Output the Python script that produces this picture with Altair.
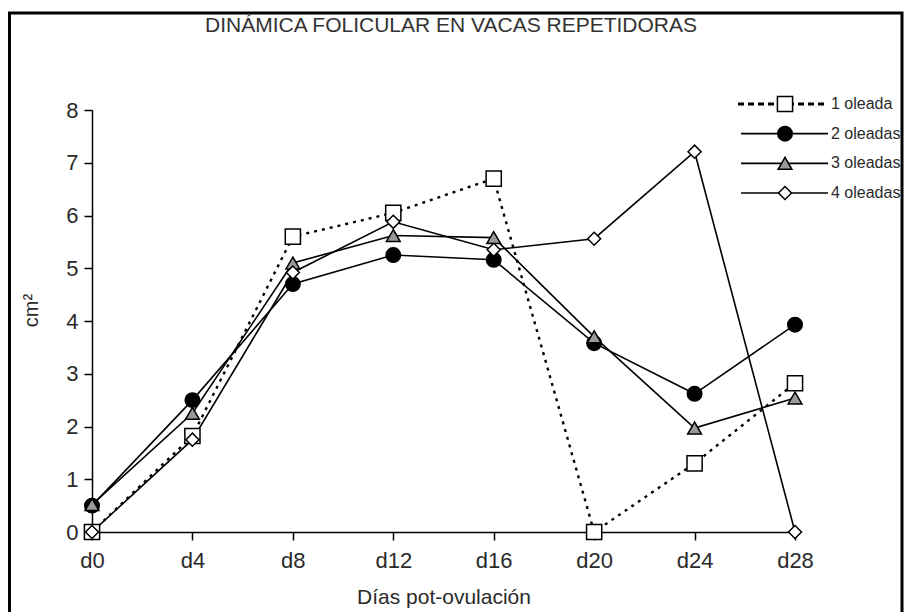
import altair as alt
import pandas as pd

# ---- data ----
days = ["d0", "d4", "d8", "d12", "d16", "d20", "d24", "d28"]
series_names = ["1 oleada", "2 oleadas", "3 oleadas", "4 oleadas"]
ole1 = [0.0, 1.82, 5.6, 6.05, 6.7, 0.0, 1.3, 2.82]
ole2 = [0.5, 2.5, 4.7, 5.25, 5.16, 3.58, 2.62, 3.93]
ole3 = [0.52, 2.25, 5.1, 5.62, 5.58, 3.7, 1.97, 2.54]
ole4 = [0.0, 1.75, 4.92, 5.88, 5.35, 5.56, 7.21, 0.0]
y_ticks = [0, 1, 2, 3, 4, 5, 6, 7, 8]
title_text = "DINÁMICA FOLICULAR EN VACAS REPETIDORAS"
x_title = "Días pot-ovulación"
y_title = "cm²"

rows = []
for name, vals in zip(series_names, [ole1, ole2, ole3, ole4]):
    for d, v in zip(days, vals):
        rows.append({"series": name, "day": d, "value": v})
df = pd.DataFrame(rows)
df_leg = pd.DataFrame({"series": series_names})

FONT = "Liberation Sans"
TXT = "#2a2a2a"
W, H = 703, 422

x_enc = alt.X(
    "day:N", sort=days,
    scale=alt.Scale(type="point", domain=days, padding=0),
    axis=alt.Axis(title=x_title, labelAngle=0, labelFontSize=22, labelColor=TXT,
                  labelFont=FONT, tickSize=8, tickColor="black", tickWidth=1.5,
                  domainColor="black", domainWidth=1.5, labelPadding=10,
                  titleFont=FONT, titleFontSize=21, titleFontWeight="normal",
                  titleColor=TXT, titlePadding=15, grid=False),
)
y_scale = alt.Scale(domain=[0, 8], nice=False, zero=True)
y_enc = alt.Y(
    "value:Q", scale=y_scale,
    axis=alt.Axis(title=y_title, values=y_ticks, labelFontSize=22, labelColor=TXT,
                  labelFont=FONT, tickSize=8, tickColor="black", tickWidth=1.5,
                  domainColor="black", domainWidth=1.5, labelPadding=6,
                  titleFont=FONT, titleFontSize=20, titleFontWeight="normal",
                  titleColor=TXT, titlePadding=24, titleY=200, grid=False),
)
y_plain = alt.Y("value:Q", scale=y_scale, axis=None)

shape_scale = alt.Scale(domain=series_names, range=["square", "circle", "triangle-up", "diamond"])
fill_scale = alt.Scale(domain=series_names, range=["white", "black", "#999999", "white"])
size_scale = alt.Scale(domain=series_names, range=[230, 170, 170, 140])

dashed_line = alt.Chart(df).transform_filter(
    alt.datum.series == series_names[0]
).mark_line(color="black", strokeWidth=2.4, strokeDash=[3, 5]).encode(
    x=x_enc, y=y_enc, detail="series:N",
)
solid_lines = alt.Chart(df).transform_filter(
    alt.datum.series != series_names[0]
).mark_line(color="black", strokeWidth=1.6).encode(
    x=x_enc, y=y_plain, detail="series:N",
)

points = alt.Chart(df).mark_point(filled=True, stroke="black", strokeWidth=1.5, opacity=1).encode(
    x=x_enc,
    y=y_plain,
    shape=alt.Shape("series:N", scale=shape_scale, legend=None),
    fill=alt.Fill("series:N", scale=fill_scale, legend=None),
    size=alt.Size("series:N", scale=size_scale, legend=None),
)

# ---- manual legend ----
leg_y = alt.Y("series:N", scale=alt.Scale(type="point", domain=series_names, range=[-6, 83], padding=0), axis=None)
leg_dashed = alt.Chart(df_leg).transform_filter(
    alt.datum.series == series_names[0]
).mark_rule(color="black", strokeWidth=3, strokeDash=[6, 4]).encode(
    x=alt.value(646), x2=alt.value(736), y=leg_y,
)
leg_solid = alt.Chart(df_leg).transform_filter(
    alt.datum.series != series_names[0]
).mark_rule(color="black", strokeWidth=1.6).encode(
    x=alt.value(649), x2=alt.value(736), y=leg_y,
)
leg_points = alt.Chart(df_leg).mark_point(filled=True, stroke="black", strokeWidth=1.5, opacity=1).encode(
    x=alt.value(693), y=leg_y,
    shape=alt.Shape("series:N", scale=shape_scale, legend=None),
    fill=alt.Fill("series:N", scale=fill_scale, legend=None),
    size=alt.Size("series:N", scale=size_scale, legend=None),
)
leg_text = alt.Chart(df_leg).mark_text(align="left", baseline="middle", fontSize=16,
                                        font=FONT, color=TXT).encode(
    x=alt.value(739), y=leg_y, text="series:N",
)

# ---- title and frame ----
title = alt.Chart(pd.DataFrame({"t": [title_text]})).mark_text(
    align="center", baseline="middle", fontSize=21, font=FONT, color="#333"
).encode(x=alt.value(359), y=alt.value(-84), text="t:N")

frame = alt.Chart(pd.DataFrame({"a": [0]})).mark_rect(
    fillOpacity=0, stroke="black", strokeWidth=3
).encode(x=alt.value(-82.5), x2=alt.value(810), y=alt.value(-97), y2=alt.value(530))

chart = alt.layer(
    frame, title, dashed_line, solid_lines, points,
    leg_dashed, leg_solid, leg_points, leg_text
).resolve_scale(
    y="independent"
).properties(
    width=W, height=H,
    background="white",
    view=alt.ViewBackground(stroke="transparent", strokeOpacity=0),
    autosize=alt.AutoSizeParams(type="none"),
    padding={"left": 84, "top": 102, "right": 109, "bottom": 80},
).configure_view(
    stroke="transparent", strokeOpacity=0
).configure_axis(grid=False)

chart.save("out.html", embed_options={"renderer": "svg", "actions": False})
